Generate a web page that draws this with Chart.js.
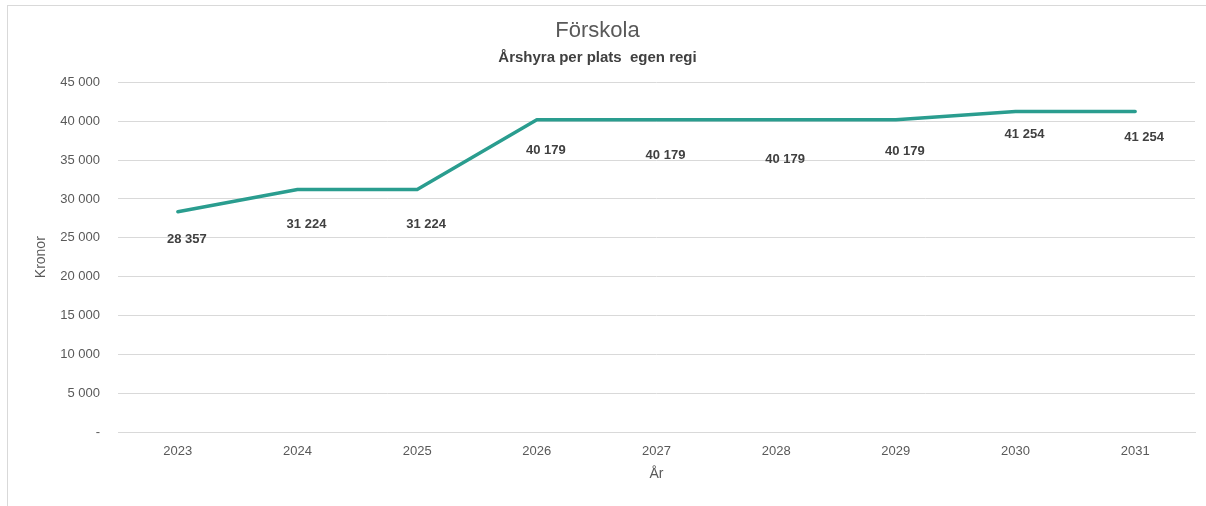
<!DOCTYPE html>
<html>
<head>
<meta charset="utf-8">
<script src="https://cdn.jsdelivr.net/npm/chart.js@4/dist/chart.umd.min.js"></script>
<style>
  html, body { margin: 0; padding: 0; background: #fff; overflow: hidden; }
  #frame { position: absolute; left: 7px; top: 5px; width: 1230px; height: 530px; border: 1px solid #d9d9d9; }
  #wrap { position: absolute; left: 0; top: 0; width: 1206px; height: 506px; }
</style>
</head>
<body>
<div id="frame"></div>
<div id="wrap"><canvas id="chart"></canvas></div>
<script>
// values
const years = ['2023', '2024', '2025', '2026', '2027', '2028', '2029', '2030', '2031'];
const rent = [28357, 31224, 31224, 40179, 40179, 40179, 40179, 41254, 41254];
const yTicks = [0, 5000, 10000, 15000, 20000, 25000, 30000, 35000, 40000, 45000];

// label offsets below each point (Excel placed them a bit unevenly)
const labelDy = [28, 35, 35, 31, 36, 40, 32, 23, 26];

const fontFam = '"Liberation Sans", Arial, sans-serif';

function fmt(v) {
  if (v === 0) return '-';
  return String(v).replace(/\B(?=(\d{3})+(?!\d))/g, ' ');
}

const pointLabels = {
  id: 'pointLabels',
  afterDatasetsDraw(chart) {
    const ctx = chart.ctx;
    const meta = chart.getDatasetMeta(0);
    ctx.save();
    ctx.font = 'bold 13px ' + fontFam;
    ctx.fillStyle = '#404040';
    ctx.textAlign = 'center';
    ctx.textBaseline = 'middle';
    meta.data.forEach(function(pt, i) {
      ctx.fillText(fmt(rent[i]), pt.x + 9, pt.y + labelDy[i]);
    });
    ctx.restore();
  }
};

new Chart(document.getElementById('chart'), {
  type: 'line',
  data: {
    labels: years,
    datasets: [{
      data: rent,
      borderColor: '#2a9d8f',
      borderWidth: 3.5,
      borderCapStyle: 'round',
      borderJoinStyle: 'round',
      pointRadius: 0,
      tension: 0,
      fill: false
    }]
  },
  options: {
    responsive: true,
    maintainAspectRatio: false,
    animation: false,
    layout: { padding: { left: 0, right: 11, top: 0, bottom: 0 } },
    plugins: {
      legend: { display: false },
      tooltip: { enabled: false },
      title: {
        display: true,
        text: 'Förskola',
        color: '#595959',
        font: { family: fontFam, size: 22, weight: 'normal' },
        padding: { top: 18, bottom: 4 }
      },
      subtitle: {
        display: true,
        text: 'Årshyra per plats  egen regi',
        color: '#404040',
        font: { family: fontFam, size: 15, weight: 'bold' },
        padding: { top: 0, bottom: 16 }
      }
    },
    scales: {
      x: {
        offset: true,
        grid: { display: false },
        border: { display: true, color: '#d9d9d9', width: 1 },
        ticks: { color: '#595959', font: { family: fontFam, size: 13 }, padding: 4 },
        title: {
          display: true,
          text: 'År',
          color: '#595959',
          font: { family: fontFam, size: 14 },
          padding: { top: 4, bottom: 23 }
        },
        afterFit(scale) { scale.height = 74; }
      },
      y: {
        min: 0,
        max: 45000,
        afterBuildTicks(scale) { scale.ticks = yTicks.map(v => ({ value: v })); },
        grid: { color: '#d9d9d9', drawTicks: false },
        border: { display: false },
        ticks: {
          color: '#595959',
          font: { family: fontFam, size: 13 },
          padding: 18,
          callback: v => fmt(v)
        },
        title: {
          display: true,
          text: 'Kronor',
          color: '#595959',
          font: { family: fontFam, size: 14 },
          padding: { top: 33, bottom: 0 }
        },
        afterFit(scale) { scale.width = 118; }
      }
    }
  },
  plugins: [pointLabels]
});
</script>
</body>
</html>
